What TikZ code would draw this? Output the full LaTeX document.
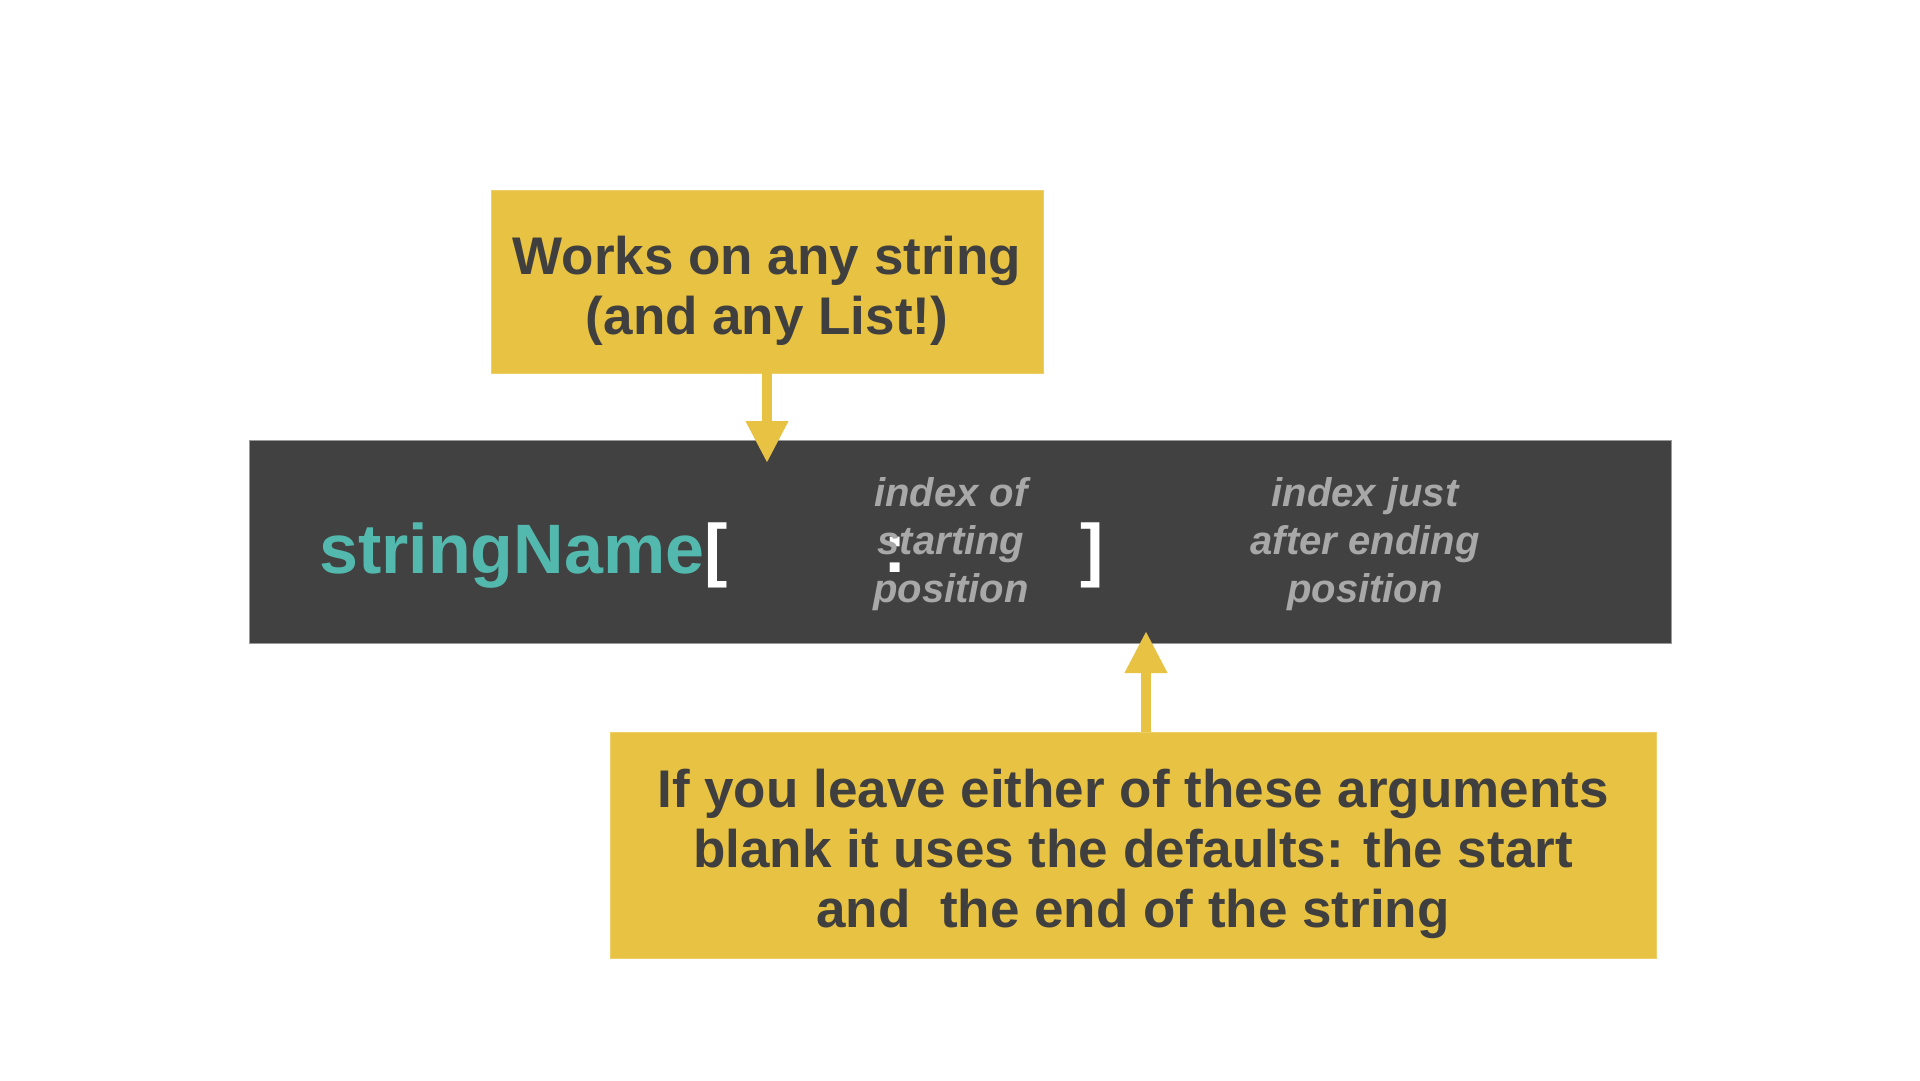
\documentclass[tikz,border=0pt]{standalone}
\usepackage{fontspec}
\setmainfont{Liberation Sans}
\usetikzlibrary{arrows.meta}
\definecolor{gold}{HTML}{E8C243}
\definecolor{darkbar}{HTML}{414141}
\definecolor{ink}{HTML}{3F3F3F}
\definecolor{tealname}{HTML}{53B9AE}
\definecolor{lbl}{HTML}{A8A8A8}
\tikzset{
  callout/.style={fill=gold, draw=gold!80!white, line width=0.8pt, inner sep=0pt},
  calltext/.style={inner sep=0pt, text=ink, align=center, font=\fontsize{53}{60}\selectfont\bfseries},
  codebar/.style={fill=darkbar, draw=black!40, line width=1pt, inner sep=0pt},
  conn/.style={draw=gold, line width=10pt, -{Triangle[width=40pt,length=42pt]}},
  codetext/.style={inner sep=0pt, font=\fontsize{70}{70}\selectfont\bfseries},
  brk/.style={inner sep=0pt, text=white, font=\fontsize{70}{70}\selectfont\bfseries},
  argnote/.style={inner sep=0pt, text=lbl, align=center, font=\fontsize{40}{48}\selectfont\bfseries\itshape}
}
\begin{document}
\begin{tikzpicture}[x=1pt,y=-1pt]
\useasboundingbox (0,0) rectangle (1920,1080);
\fill[white] (0,0) rectangle (1920,1080);

% code bar
\node[codebar, minimum width=1422pt, minimum height=203pt] (bar) at (960,541.5) {};

% top callout
\node[callout, minimum width=552pt, minimum height=183pt] (top) at (767,281.5) {};
\node[calltext] (toptext) at (767,291) {Works on any string\\(and any List!)};

% bottom callout
\node[callout, minimum width=1046pt, minimum height=226pt] (bot) at (1133,845) {};
\node[calltext] (bottext) at (1133,854) {If you leave either of these arguments\\
   blank it uses the defaults: the start\\
   and\ \ the end of the string};

% code text
\node[codetext, text=tealname, anchor=base west] (sn) at (319,573) {stringName};
\node[brk, anchor=base] (lb) at (716,573) {[};
\node[brk, anchor=base] (colon) at (895,572) {:};
\node[brk, anchor=base] (rb) at (1092,573) {]};

\node[argnote] (start) at (951,544) {index of\\starting\\position};
\node[argnote] (stop) at (1365,544) {index just\\after ending\\position};

% connectors
\coordinate (t1) at (767,463);
\coordinate (t2) at (1146,631);
\draw[conn] (top.south) -- (t1);
\draw[conn] (bot.north -| t2) -- (t2);
\end{tikzpicture}
\end{document}
